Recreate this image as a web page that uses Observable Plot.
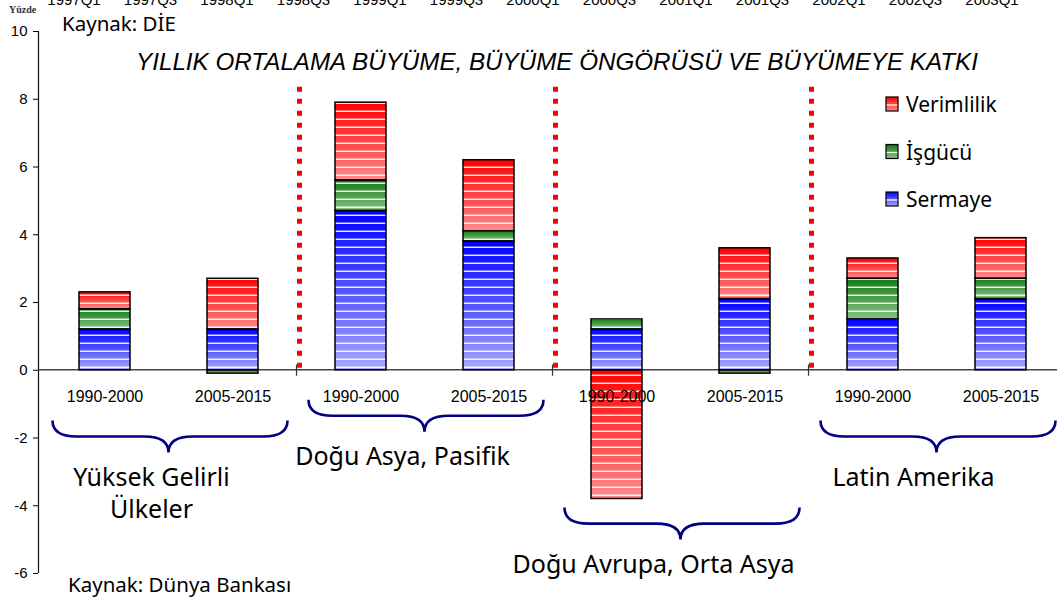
<!DOCTYPE html>
<html><head><meta charset="utf-8">
<script src="https://cdn.jsdelivr.net/npm/d3@7"></script>
<script src="https://cdn.jsdelivr.net/npm/@observablehq/plot@0.6"></script>
<style>html,body{margin:0;padding:0;background:#fff}svg{display:block}</style>
</head><body><div id="chart"></div>
<script>
// ---------- data ----------
const groups = ["Yüksek Gelirli Ülkeler", "Doğu Asya, Pasifik", "Doğu Avrupa, Orta Asya", "Latin Amerika"];
const groupLabelLines = [["Yüksek Gelirli", "Ülkeler"], ["Doğu Asya, Pasifik"], ["Doğu Avrupa, Orta Asya"], ["Latin Amerika"]];
const periods = ["1990-2000", "2005-2015"];
const seriesNames = ["Sermaye", "İşgücü", "Verimlilik"];
const legendOrder = ["Verimlilik", "İşgücü", "Sermaye"];
const sermaye    = [1.2, 1.2, 4.7, 3.8, 1.2, 2.1, 1.5, 2.1];
const isgucu     = [0.6, -0.1, 0.9, 0.3, 0.3, -0.1, 1.2, 0.6];
const verimlilik = [0.5, 1.5, 2.3, 2.1, -3.8, 1.5, 0.6, 1.2];
const yTicks = [-6, -4, -2, 0, 2, 4, 6, 8, 10];
const topLabels = ["1997Q1","1997Q3","1998Q1","1998Q3","1999Q1","1999Q3","2000Q1","2000Q3","2001Q1","2001Q3","2002Q1","2002Q3","2003Q1"];
const titleText = "YILLIK ORTALAMA BÜYÜME, BÜYÜME ÖNGÖRÜSÜ VE BÜYÜMEYE KATKI";
const sourceTop = "Kaynak: DİE";
const sourceBottom = "Kaynak: Dünya Bankası";
const unitText = "Yüzde";

// ---------- build table ----------
const cats = [];
groups.forEach(g => periods.forEach(p => cats.push(g + "|" + p)));
const seriesValues = {"Sermaye": sermaye, "İşgücü": isgucu, "Verimlilik": verimlilik};
const table = [];
seriesNames.forEach(s => cats.forEach((c, i) => table.push({cat: c, series: s, value: seriesValues[s][i]})));

// ---------- styles ----------
const FONT_A = "'Liberation Sans', Arial, Helvetica, sans-serif";
const FONT_T = "'Noto Sans', 'DejaVu Sans', sans-serif";
const gradIds = {"Sermaye": "gSer", "İşgücü": "gIsg", "Verimlilik": "gVer"};
const gradColors = {gSer: ["#0000ff", "#a8a8ff"], gIsg: ["#137a13", "#86c486"], gVer: ["#ff0000", "#ff8a8a"]};

function backLayer(index, scales, values, dim) {
  const x = scales.x, y = scales.y;
  const bw = x.bandwidth(), step = x.step();
  const g = d3.create("svg:g");
  const defs = g.append("defs");
  for (const [id, [c0, c1]] of Object.entries(gradColors)) {
    const lg = defs.append("linearGradient").attr("id", id).attr("x1", 0).attr("y1", 0).attr("x2", 0).attr("y2", 1);
    lg.append("stop").attr("offset", "0%").attr("stop-color", c0);
    lg.append("stop").attr("offset", "100%").attr("stop-color", c1);
  }
  const pat = defs.append("pattern").attr("id", "stripes").attr("patternUnits", "userSpaceOnUse")
    .attr("width", 20).attr("height", 8);
  pat.append("rect").attr("x", 0).attr("y", 6.6).attr("width", 20).attr("height", 1.3).attr("fill", "#fff");
  const y0 = y(0);
  g.append("line").attr("x1", dim.marginLeft + 0.5).attr("x2", dim.marginLeft + 0.5)
    .attr("y1", y(10)).attr("y2", y(-6)).attr("stroke", "#111").attr("stroke-width", 1.2);
  g.append("line").attr("x1", dim.marginLeft).attr("x2", dim.width)
    .attr("y1", y0).attr("y2", y0).attr("stroke", "#444").attr("stroke-width", 1.3);
  for (let gi = 1; gi < groups.length; gi++) {
    const bx = x(cats[2 * gi]) - (step - bw) / 2;
    g.append("line").attr("x1", bx).attr("x2", bx).attr("y1", y0 - 5).attr("y2", y0 + 6)
      .attr("stroke", "#333").attr("stroke-width", 1.2);
    g.append("line").attr("x1", bx + 3).attr("x2", bx + 3).attr("y1", y0 - 2).attr("y2", y(8.47))
      .attr("stroke", "#ff0000").attr("stroke-width", 5).attr("stroke-dasharray", "5 7");
  }
  return g.node();
}

function txt(g, x, y, s, opts) {
  const t = g.append("text").attr("x", x).attr("y", y).text(s)
    .attr("text-anchor", opts.anchor || "start")
    .attr("font-family", opts.family || FONT_T)
    .attr("font-size", opts.size || 20)
    .attr("fill", opts.fill || "#000");
  if (opts.central) t.attr("dominant-baseline", "central");
  if (opts.italic) t.attr("font-style", "italic");
  if (opts.bold) t.attr("font-weight", "bold");
  return t;
}

function frontLayer(index, scales, values, dim) {
  const x = scales.x, y = scales.y;
  const bw = x.bandwidth();
  const g = d3.create("svg:g");
  const braceEnd = [-1.5, -0.885, -4.07, -1.5];
  const labelShift = [-17, -22, -27, -23];
  groups.forEach((grp, gi) => {
    const xa = x(cats[2 * gi]) + bw / 2, xb = x(cats[2 * gi + 1]) + bw / 2;
    const xm = (xa + xb) / 2;
    const xL = xm - 116, xR = xm + 119, r = 24;
    const yE = y(braceEnd[gi]), yF = yE + 16, yT = yF + 16;
    const p = `M${xL},${yE} Q${xL},${yF} ${xL + r},${yF} L${xm - r},${yF} Q${xm},${yF} ${xm},${yT} ` +
              `Q${xm},${yF} ${xm + r},${yF} L${xR - r},${yF} Q${xR},${yF} ${xR},${yE}`;
    g.append("path").attr("d", p).attr("fill", "none").attr("stroke", "#000080").attr("stroke-width", 2.6);
    groupLabelLines[gi].forEach((line, li) => {
      txt(g, xm + labelShift[gi], yT + 23 + li * 32, line, {anchor: "middle", size: 25, central: true});
    });
  });
  txt(g, 557, 70, titleText, {anchor: "middle", family: FONT_A, size: 24.2, italic: true});
  txt(g, 62, 31, sourceTop, {size: 20.5});
  txt(g, 68, 592, sourceBottom, {size: 20.5});
  txt(g, 9, 13, unitText, {family: "'Liberation Serif', 'DejaVu Serif', serif", size: 10, bold: true, fill: "#333"});
  topLabels.forEach((t, i) => txt(g, 74 + 76.5 * i, 5, t, {anchor: "middle", family: FONT_A, size: 15}));
  legendOrder.forEach((s, i) => {
    const cy = 104 + i * 47.5;
    g.append("rect").attr("x", 886).attr("y", cy - 7).attr("width", 12).attr("height", 14).attr("fill", `url(#${gradIds[s]})`);
    g.append("line").attr("x1", 886).attr("x2", 898).attr("y1", cy + 1).attr("y2", cy + 1).attr("stroke", "#fff").attr("stroke-width", 1.3);
    g.append("rect").attr("x", 886).attr("y", cy - 7).attr("width", 12).attr("height", 14).attr("fill", "none").attr("stroke", "#000").attr("stroke-width", 1.2);
    txt(g, 906, cy, s, {size: 21, central: true});
  });
  return g.node();
}

const chart = Plot.plot({
  width: 1057,
  height: 600,
  marginLeft: 38,
  marginTop: 31,
  marginBottom: 27,
  marginRight: 0,
  x: {domain: cats, range: [38.7, 1067], paddingInner: 0.6, paddingOuter: 0.3, axis: null},
  y: {domain: [-6, 10], axis: null},
  color: {type: "identity"},
  style: {background: "#fff", fontFamily: FONT_A, fontSize: "15px", color: "#000", overflow: "hidden"},
  marks: [
    backLayer,
    Plot.barY(table, Plot.stackY({x: "cat", y: "value", fill: d => `url(#${gradIds[d.series]})`})),
    Plot.barY(table, Plot.stackY({x: "cat", y: "value", fill: "url(#stripes)", stroke: "#000", strokeWidth: 1.5})),
    Plot.axisY({ticks: yTicks, tickSize: 5, tickPadding: 6, tickFormat: d => String(d), label: null}),
    Plot.text(cats, {x: d => d, y: () => 0, text: d => d.split("|")[1], dy: 27, fontSize: 16, fontFamily: FONT_A, fill: "#000"}),
    frontLayer
  ]
});
document.getElementById("chart").appendChild(chart);
</script>
</body></html>
